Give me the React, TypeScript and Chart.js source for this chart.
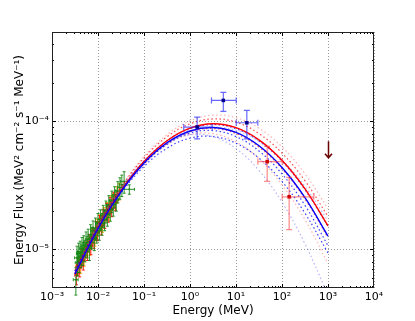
import React, { useEffect, useRef } from 'react';
import { Chart, registerables } from 'chart.js';

Chart.register(...registerables);

// ---- axis ticks ----
const xTickValues = [1e-3, 1e-2, 1e-1, 1, 10, 100, 1000, 1e4];
const xTickLabels = ['10⁻³', '10⁻²', '10⁻¹', '10⁰', '10¹', '10²', '10³', '10⁴'];
const yTickValues = [1e-5, 1e-4];
const yTickLabels = ['10⁻⁵', '10⁻⁴'];

// ---- model curves (MeV, MeV^2 cm^-2 s^-1 MeV^-1) ----
const curveE = [0.00316, 0.01, 0.0316, 0.1, 0.316, 1, 3.16, 10, 31.6, 100, 316, 1000];
const blueModel = [6.44e-6, 1.457e-5, 2.833e-5, 4.738e-5, 6.816e-5, 8.43e-5, 8.97e-5, 8.21e-5, 6.455e-5, 4.37e-5, 2.541e-5, 1.272e-5];
const redModel = [6.47e-6, 1.47e-5, 2.88e-5, 4.86e-5, 7.07e-5, 8.87e-5, 9.59e-5, 8.94e-5, 7.18e-5, 4.97e-5, 2.97e-5, 1.528e-5];
const blueBandA = [6.79e-6, 1.518e-5, 2.93e-5, 4.89e-5, 7.05e-5, 8.77e-5, 9.44e-5, 8.77e-5, 7.05e-5, 4.89e-5, 2.93e-5, 1.518e-5];
const blueBandB = [6.48e-6, 1.458e-5, 2.82e-5, 4.67e-5, 6.64e-5, 8.1e-5, 8.49e-5, 7.62e-5, 5.88e-5, 3.89e-5, 2.21e-5, 1.07e-5];
const blueBandC = [6.75e-6, 1.469e-5, 2.76e-5, 4.45e-5, 6.18e-5, 7.4e-5, 7.62e-5, 6.76e-5, 5.17e-5, 3.4e-5, 1.92e-5, 9.38e-6];
const blueBandD = [6.48e-6, 1.526e-5, 3.01e-5, 4.95e-5, 6.83e-5, 7.88e-5, 7.6e-5, 6.14e-5, 4.14e-5, 2.34e-5, 1.107e-5, 4.38e-6];
const blueBandE = [6.61e-6, 1.451e-5, 2.77e-5, 4.59e-5, 6.62e-5, 8.28e-5, 9.01e-5, 8.52e-5, 7.0e-5, 5.0e-5, 3.1e-5, 1.67e-5];
const redBandA = [6.75e-6, 1.554e-5, 3.09e-5, 5.31e-5, 7.88e-5, 1.01e-4, 1.119e-4, 1.071e-4, 8.85e-5, 6.33e-5, 3.9e-5, 2.08e-5];
const redBandB = [6.9e-6, 1.564e-5, 3.06e-5, 5.19e-5, 7.59e-5, 9.58e-5, 1.046e-4, 9.87e-5, 8.04e-5, 5.66e-5, 3.44e-5, 1.81e-5];
const redBandC = [6.38e-6, 1.441e-5, 2.8e-5, 4.67e-5, 6.71e-5, 8.29e-5, 8.81e-5, 8.04e-5, 6.32e-5, 4.27e-5, 2.48e-5, 1.24e-5];
const redBandD = [6.49e-6, 1.477e-5, 2.86e-5, 4.71e-5, 6.61e-5, 7.9e-5, 8.02e-5, 6.94e-5, 5.11e-5, 3.2e-5, 1.71e-5, 7.75e-6];

// ---- high-energy points ----
const blueE = [1.43, 5.3, 17.2];
const blueELo = [0.73, 2.93, 10.1];
const blueEHi = [3.04, 10.1, 29.8];
const blueFlux = [9.04e-5, 1.46e-4, 9.77e-5];
const blueFluxLo = [7.3e-5, 1.2e-4, 7.3e-5];
const blueFluxHi = [1.08e-4, 1.69e-4, 1.22e-4];

const redE = [47.6, 143];
const redELo = [29.8, 101];
const redEHi = [101, 491];
const redFlux = [4.85e-5, 2.58e-5];
const redFluxLo = [3.4e-5, 1.43e-5];
const redFluxHi = [6.38e-5, 3.66e-5];

// upper limit
const ulE = [1000];
const ulFlux = [7.0e-5];
const ulTip = [5.2e-5];

// ---- low-energy points ----
const greenE = [0.0033, 0.0035, 0.0036, 0.0038, 0.0039, 0.0041, 0.0043, 0.0045, 0.0047, 0.0049, 0.0052, 0.0055, 0.0058, 0.0061, 0.0065, 0.0069, 0.0073, 0.0078, 0.0083, 0.0088, 0.0094, 0.01, 0.0107, 0.0114, 0.0122, 0.013, 0.0139, 0.0149, 0.016, 0.0172, 0.0185, 0.02, 0.0215, 0.023, 0.025, 0.027, 0.03, 0.033, 0.037, 0.048];
const greenEErr = [0.0004, 0.0004, 0.0004, 0.0004, 0.0004, 0.0005, 0.0005, 0.0005, 0.0006, 0.0006, 0.0006, 0.0006, 0.0007, 0.0007, 0.0008, 0.0008, 0.0009, 0.0009, 0.001, 0.001, 0.0011, 0.0012, 0.0012, 0.0014, 0.0014, 0.0016, 0.0016, 0.0018, 0.002, 0.002, 0.0022, 0.0024, 0.0026, 0.0028, 0.003, 0.0032, 0.0036, 0.004, 0.006, 0.014];
const greenFlux = [5.8e-6, 8.6e-6, 7.9e-6, 9.3e-6, 8.1e-6, 9.6e-6, 8.9e-6, 1.02e-5, 9.4e-6, 1.08e-5, 9.9e-6, 1.13e-5, 1.06e-5, 1.2e-5, 1.02e-5, 1.3e-5, 1.25e-5, 1.4e-5, 1.22e-5, 1.47e-5, 1.38e-5, 1.6e-5, 1.45e-5, 1.72e-5, 1.6e-5, 1.85e-5, 1.72e-5, 2.0e-5, 1.88e-5, 2.2e-5, 2.05e-5, 2.4e-5, 2.25e-5, 2.6e-5, 2.45e-5, 2.85e-5, 3.05e-5, 3.2e-5, 3.4e-5, 2.95e-5];
const greenFluxErr = [1.4e-6, 2.0e-6, 1.7e-6, 1.9e-6, 1.5e-6, 2.0e-6, 1.7e-6, 2.2e-6, 1.9e-6, 2.0e-6, 1.9e-6, 2.4e-6, 2.0e-6, 2.4e-6, 2.0e-6, 2.6e-6, 2.4e-6, 2.7e-6, 2.4e-6, 2.9e-6, 2.6e-6, 3.1e-6, 2.7e-6, 3.2e-6, 3.1e-6, 3.6e-6, 3.2e-6, 3.9e-6, 3.6e-6, 4.3e-6, 3.9e-6, 4.6e-6, 4.3e-6, 4.9e-6, 4.6e-6, 5.4e-6, 5.8e-6, 6.1e-6, 6.5e-6, 2.5e-6];

const redLowE = [0.0034, 0.0037, 0.004, 0.0044, 0.0048, 0.0053, 0.0059, 0.0064, 0.007, 0.0076, 0.0082, 0.009, 0.0098, 0.0108, 0.0118, 0.0128, 0.014, 0.0153, 0.0167, 0.0182, 0.0198, 0.022, 0.024];
const redLowEErr = [0.00027, 0.0003, 0.00032, 0.00036, 0.0004, 0.00045, 0.0005, 0.00054, 0.0006, 0.00065, 0.0007, 0.00077, 0.00085, 0.0009, 0.001, 0.0011, 0.0012, 0.0013, 0.0014, 0.0015, 0.0016, 0.0018, 0.002];
const redLowFlux = [6.3e-6, 7.6e-6, 7.2e-6, 8.7e-6, 8.2e-6, 1.0e-5, 9.6e-6, 1.15e-5, 1.07e-5, 1.3e-5, 1.2e-5, 1.44e-5, 1.36e-5, 1.62e-5, 1.52e-5, 1.8e-5, 1.7e-5, 2.0e-5, 1.9e-5, 2.22e-5, 2.1e-5, 2.45e-5, 2.35e-5];
const redLowFluxErr = [1.0e-6, 1.1e-6, 1.1e-6, 1.3e-6, 1.3e-6, 1.4e-6, 1.4e-6, 1.6e-6, 1.6e-6, 1.8e-6, 1.8e-6, 2.1e-6, 1.9e-6, 2.2e-6, 2.2e-6, 2.6e-6, 2.4e-6, 2.9e-6, 2.7e-6, 3.2e-6, 3.0e-6, 3.5e-6, 3.4e-6];

const orangeE = [0.0036, 0.0042, 0.0046, 0.005, 0.0057, 0.0067, 0.0074, 0.0086, 0.0096, 0.011, 0.0125, 0.0135, 0.0155, 0.0175, 0.019, 0.021, 0.026, 0.029];
const orangeEErr = [0.00032, 0.00036, 0.0004, 0.00043, 0.0005, 0.00058, 0.00063, 0.00072, 0.0008, 0.0009, 0.0011, 0.0012, 0.0014, 0.0015, 0.0016, 0.0018, 0.0022, 0.0025];
const orangeFlux = [7.4e-6, 7.6e-6, 9.0e-6, 8.7e-6, 1.05e-5, 1.06e-5, 1.27e-5, 1.25e-5, 1.5e-5, 1.63e-5, 1.6e-5, 1.86e-5, 2.02e-5, 1.98e-5, 2.3e-5, 2.4e-5, 2.7e-5, 2.85e-5];
const orangeFluxErr = [1.1e-6, 1.1e-6, 1.4e-6, 1.3e-6, 1.6e-6, 1.6e-6, 1.9e-6, 1.9e-6, 2.2e-6, 2.4e-6, 2.4e-6, 2.7e-6, 3.0e-6, 2.9e-6, 3.4e-6, 3.5e-6, 4.0e-6, 4.2e-6];

const FONT = 'DejaVu Sans';

const pts = (xs: number[], ys: number[]) => xs.map((x, i) => ({ x, y: ys[i] }));

const labelFor = (vals: number[], labels: string[]) => (v: any) => {
  const i = vals.findIndex((t) => Math.abs(Math.log10(t) - Math.log10(Number(v))) < 1e-6);
  return i >= 0 ? labels[i] : '';
};

const curve = (label: string, ys: number[], color: string, dash: number[], width: number, order: number) => ({
  type: 'line' as const,
  label,
  data: pts(curveE, ys),
  borderColor: color,
  borderWidth: width,
  borderDash: dash,
  pointRadius: 0,
  fill: false,
  tension: 0.4,
  order,
});

const lowSet = (label: string, e: number[], de: number[], f: number[], df: number[], color: string, order: number) => ({
  type: 'scatter' as const,
  label,
  data: pts(e, f),
  backgroundColor: color,
  borderColor: color,
  pointRadius: 1,
  borderWidth: 0,
  order,
  errorBars: {
    color,
    width: 1,
    cap: 1.5,
    xLo: e.map((v, i) => v - de[i]),
    xHi: e.map((v, i) => v + de[i]),
    yLo: f.map((v, i) => v - df[i]),
    yHi: f.map((v, i) => v + df[i]),
  },
});

const errorBarPlugin = {
  id: 'errorBars',
  beforeDatasetDraw(chart: any, args: any) {
    const ds = chart.data.datasets[args.index];
    const eb = ds.errorBars;
    if (!eb) return;
    const xs = chart.scales.x;
    const ys = chart.scales.y;
    const ctx = chart.ctx;
    ctx.save();
    ctx.strokeStyle = eb.color;
    ctx.lineWidth = eb.width;
    const c = eb.cap;
    ds.data.forEach((p: any, i: number) => {
      const px = xs.getPixelForValue(p.x);
      const py = ys.getPixelForValue(p.y);
      const x0 = xs.getPixelForValue(eb.xLo[i]);
      const x1 = xs.getPixelForValue(eb.xHi[i]);
      const y0 = ys.getPixelForValue(eb.yLo[i]);
      const y1 = ys.getPixelForValue(eb.yHi[i]);
      ctx.beginPath();
      ctx.moveTo(x0, py); ctx.lineTo(x1, py);
      ctx.moveTo(px, y0); ctx.lineTo(px, y1);
      ctx.moveTo(px - c, y0); ctx.lineTo(px + c, y0);
      ctx.moveTo(px - c, y1); ctx.lineTo(px + c, y1);
      ctx.moveTo(x0, py - c); ctx.lineTo(x0, py + c);
      ctx.moveTo(x1, py - c); ctx.lineTo(x1, py + c);
      ctx.stroke();
    });
    ctx.restore();
  },
};

const upperLimitPlugin = {
  id: 'upperLimits',
  afterDatasetsDraw(chart: any) {
    const xs = chart.scales.x;
    const ys = chart.scales.y;
    const ctx = chart.ctx;
    ctx.save();
    ctx.strokeStyle = '#6b0000';
    ctx.lineWidth = 1.5;
    ulE.forEach((e, i) => {
      const px = Math.round(xs.getPixelForValue(e)) + 0.5;
      const yt = ys.getPixelForValue(ulFlux[i]);
      const yb = ys.getPixelForValue(ulTip[i]);
      ctx.beginPath();
      ctx.moveTo(px, yt); ctx.lineTo(px, yb);
      ctx.moveTo(px - 3.5, yb - 4); ctx.lineTo(px, yb); ctx.lineTo(px + 3.5, yb - 4);
      ctx.stroke();
    });
    ctx.restore();
  },
};

const framePlugin = {
  id: 'frame',
  afterDraw(chart: any) {
    const { ctx, chartArea: a } = chart;
    const xs = chart.scales.x;
    const ys = chart.scales.y;
    ctx.save();
    ctx.strokeStyle = '#000';
    ctx.lineWidth = 1;
    ctx.beginPath();
    for (let d = -3; d < 4; d++) {
      for (let m = 1; m <= 9; m++) {
        const v = m * Math.pow(10, d);
        const px = Math.round(xs.getPixelForValue(v)) + 0.5;
        const len = m === 1 ? 4 : 2;
        ctx.moveTo(px, a.bottom); ctx.lineTo(px, a.bottom - len);
        ctx.moveTo(px, a.top); ctx.lineTo(px, a.top + len);
      }
    }
    for (let d = -6; d <= -4; d++) {
      for (let m = 1; m <= 9; m++) {
        const v = m * Math.pow(10, d);
        if (v < ys.min || v > ys.max) continue;
        const py = Math.round(ys.getPixelForValue(v)) + 0.5;
        const len = m === 1 ? 4 : 2;
        ctx.moveTo(a.left, py); ctx.lineTo(a.left + len, py);
        ctx.moveTo(a.right, py); ctx.lineTo(a.right - len, py);
      }
    }
    ctx.stroke();
    ctx.strokeStyle = '#222';
    ctx.strokeRect(Math.round(a.left) + 0.5, Math.round(a.top) + 0.5, Math.round(a.right - a.left) - 1, Math.round(a.bottom - a.top) - 1);
    ctx.restore();
  },
};

export default function App() {
  const ref = useRef<HTMLCanvasElement | null>(null);
  useEffect(() => {
    document.body.style.margin = '0';
    const canvas = ref.current;
    if (!canvas) return;
    const blueDot = 'rgba(0,0,255,0.75)';
    const blueDotLight = 'rgba(90,90,255,0.45)';
    const redDot = 'rgba(255,0,0,0.7)';
    const redDotLight = 'rgba(255,90,90,0.45)';
    const dots = [1.5, 2.5];
    const chart = new Chart(canvas, {
      type: 'scatter',
      data: {
        datasets: [
          {
            type: 'scatter',
            label: 'LAT (blue)',
            data: pts(blueE, blueFlux),
            pointStyle: 'rect',
            pointRadius: 2.5,
            backgroundColor: '#00008b',
            borderColor: '#00008b',
            borderWidth: 0,
            order: 0,
            errorBars: { color: 'rgba(40,40,255,0.7)', width: 1.2, cap: 3, xLo: blueELo, xHi: blueEHi, yLo: blueFluxLo, yHi: blueFluxHi },
          } as any,
          {
            type: 'scatter',
            label: 'LAT (red)',
            data: pts(redE, redFlux),
            pointStyle: 'rect',
            pointRadius: 2.5,
            backgroundColor: '#cc0000',
            borderColor: '#cc0000',
            borderWidth: 0,
            order: 1,
            errorBars: { color: 'rgba(255,60,60,0.6)', width: 1.2, cap: 3, xLo: redELo, xHi: redEHi, yLo: redFluxLo, yHi: redFluxHi },
          } as any,
          curve('model blue', blueModel, '#0000ff', [], 1.4, 2),
          curve('model red', redModel, '#ff0000', [], 1.4, 3),
          curve('blue band A', blueBandA, blueDot, dots, 1.2, 4),
          curve('blue band B', blueBandB, blueDot, dots, 1.2, 4),
          curve('blue band C', blueBandC, blueDot, dots, 1.2, 4),
          curve('blue band D', blueBandD, blueDotLight, dots, 1.2, 5),
          curve('blue band E', blueBandE, blueDotLight, dots, 1.2, 5),
          curve('red band A', redBandA, redDotLight, dots, 1.2, 5),
          curve('red band B', redBandB, redDot, dots, 1.2, 4),
          curve('red band C', redBandC, redDot, dots, 1.2, 4),
          curve('red band D', redBandD, redDotLight, dots, 1.2, 5),
          lowSet('green', greenE, greenEErr, greenFlux, greenFluxErr, 'rgba(20,135,20,0.9)', 6) as any,
          lowSet('red low', redLowE, redLowEErr, redLowFlux, redLowFluxErr, 'rgba(255,0,0,0.85)', 7) as any,
          lowSet('orange', orangeE, orangeEErr, orangeFlux, orangeFluxErr, 'rgba(255,165,0,0.9)', 8) as any,
        ],
      },
      options: {
        animation: false,
        responsive: false,
        maintainAspectRatio: false,
        layout: { padding: { left: 0, top: 32, right: 41, bottom: 0 } },
        plugins: { legend: { display: false }, tooltip: { enabled: false } },
        scales: {
          x: {
            type: 'logarithmic',
            position: 'bottom',
            min: 1e-3,
            max: 1e4,
            afterBuildTicks: (s: any) => { s.ticks = xTickValues.map((v) => ({ value: v })); },
            afterFit: (s: any) => { s.height = 33; },
            ticks: { callback: labelFor(xTickValues, xTickLabels), font: { family: FONT, size: 11 }, color: '#000', padding: 3, maxRotation: 0, autoSkip: false },
            grid: { color: '#9a9a9a', lineWidth: 1, drawTicks: false },
            border: { display: false, dash: [1, 2] },
            title: { display: true, text: 'Energy (MeV)', font: { family: FONT, size: 12 }, color: '#000', padding: { top: 0, bottom: 3 } },
          },
          y: {
            type: 'logarithmic',
            position: 'left',
            min: 5e-6,
            max: 5e-4,
            afterBuildTicks: (s: any) => { s.ticks = yTickValues.map((v) => ({ value: v })); },
            afterFit: (s: any) => { s.width = 52; },
            ticks: { callback: labelFor(yTickValues, yTickLabels), font: { family: FONT, size: 11 }, color: '#000', padding: 3, autoSkip: false },
            grid: { color: '#9a9a9a', lineWidth: 1, drawTicks: false },
            border: { display: false, dash: [1, 2] },
            title: { display: true, text: 'Energy Flux (MeV² cm⁻² s⁻¹ MeV⁻¹)', font: { family: FONT, size: 12 }, color: '#000', padding: { top: 13, bottom: 0 } },
          },
        },
      },
      plugins: [errorBarPlugin, upperLimitPlugin, framePlugin],
    } as any);
    return () => chart.destroy();
  }, []);
  return (
    <div style={{ width: 415, height: 321, background: '#fff' }}>
      <canvas ref={ref} width={415} height={321} style={{ display: 'block' }} />
    </div>
  );
}
